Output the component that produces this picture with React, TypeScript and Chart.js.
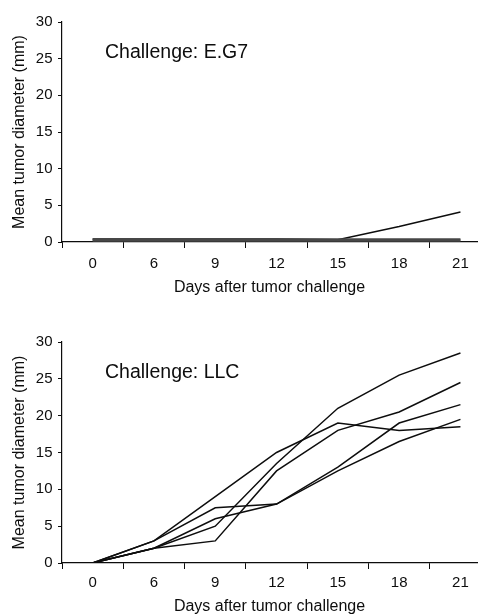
import React, { useEffect, useRef } from 'react';
import { Chart, registerables } from 'chart.js';

Chart.register(...registerables);

// ---- data ----
const days = ['0', '6', '9', '12', '15', '18', '21'];
const yMin = 0;
const yMax = 30;
const yStep = 5;

// Challenge: E.G7 (mean tumor diameter, mm)
const eg7Mouse1 = [0.4, 0.4, 0.4, 0.4, 0.3, 2.1, 4.1];
const eg7Mouse2 = [0.42, 0.42, 0.42, 0.42, 0.42, 0.42, 0.42];
const eg7Mouse3 = [0.32, 0.32, 0.32, 0.32, 0.32, 0.32, 0.32];
const eg7Mouse4 = [0.22, 0.22, 0.22, 0.22, 0.22, 0.22, 0.22];
const eg7Mouse5 = [0.12, 0.12, 0.12, 0.12, 0.12, 0.12, 0.12];

// Challenge: LLC (mean tumor diameter, mm)
const llcMouse1 = [0, 3, 9, 15, 19, 18, 18.5];
const llcMouse2 = [0, 2, 5, 13.5, 21, 25.5, 28.5];
const llcMouse3 = [0, 2, 3, 12.5, 18, 20.5, 24.5];
const llcMouse4 = [0, 3, 7.5, 8, 13, 19, 21.5];
const llcMouse5 = [0, 2, 6, 8, 12.5, 16.5, 19.5];

const FONT = '"Liberation Sans", Arial, Helvetica, sans-serif';
const INK = '#0d0d0d';

type Series = { values: number[]; color: string; width: number };

type PanelProps = {
  width: number;
  height: number;
  label: string;
  series: Series[];
  padTop: number;
  xAxisHeight: number;
  xTickPad: number;
  xTitlePadBottom: number;
};

function Panel(props: PanelProps) {
  const ref = useRef<HTMLCanvasElement | null>(null);

  useEffect(() => {
    if (!ref.current) return;
    const annot = {
      id: 'annot',
      afterDraw(chart: any) {
        const { ctx, chartArea } = chart;
        ctx.save();
        ctx.font = `19.5px ${FONT}`;
        ctx.fillStyle = INK;
        ctx.textAlign = 'left';
        ctx.textBaseline = 'alphabetic';
        ctx.fillText(props.label, chartArea.left + 43, chartArea.top + 35.5);
        ctx.restore();
      },
    };

    const chart = new Chart(ref.current, {
      type: 'line',
      data: {
        datasets: props.series.map((s, k) => ({
          label: `Mouse ${k + 1}`,
          data: s.values.map((v, i) => ({ x: i, y: v })),
          borderColor: s.color,
          borderWidth: s.width,
          pointRadius: 0,
          pointHoverRadius: 0,
          tension: 0,
          fill: false,
        })),
      },
      options: {
        responsive: false,
        animation: false,
        events: [],
        layout: { padding: { top: props.padTop, right: 2, left: 0, bottom: 0 } },
        plugins: {
          legend: { display: false },
          tooltip: { enabled: false },
          title: { display: false },
        },
        scales: {
          x: {
            type: 'linear',
            min: -0.5,
            max: 6.27,
            afterBuildTicks: (axis: any) => {
              const t: { value: number }[] = [];
              for (let i = -1; i <= 12; i++) t.push({ value: i / 2 });
              axis.ticks = t;
            },
            afterFit: (axis: any) => {
              axis.height = props.xAxisHeight;
            },
            ticks: {
              autoSkip: false,
              maxRotation: 0,
              minRotation: 0,
              padding: props.xTickPad,
              color: INK,
              font: { family: FONT, size: 15 },
              callback: (v: any) => (Number.isInteger(v) ? days[v] : ''),
            },
            grid: {
              drawOnChartArea: false,
              drawTicks: true,
              tickLength: 6,
              tickWidth: 1,
              tickColor: (c: any) =>
                c.tick && Number.isInteger(c.tick.value) ? 'rgba(0,0,0,0)' : INK,
            },
            border: { display: true, color: INK, width: 1.2 },
            title: {
              display: true,
              text: 'Days after tumor challenge',
              color: INK,
              font: { family: FONT, size: 16 },
              padding: { top: 0, bottom: props.xTitlePadBottom },
            },
          },
          y: {
            type: 'linear',
            min: yMin,
            max: yMax,
            afterFit: (axis: any) => {
              axis.width = 62;
            },
            ticks: {
              stepSize: yStep,
              padding: 5.5,
              color: INK,
              font: { family: FONT, size: 15 },
            },
            grid: {
              drawOnChartArea: false,
              drawTicks: true,
              tickLength: 4,
              tickColor: INK,
            },
            border: { display: true, color: INK, width: 1.2 },
            title: {
              display: true,
              text: 'Mean tumor diameter (mm)',
              color: INK,
              font: { family: FONT, size: 16 },
              padding: { top: 10, bottom: 0 },
            },
          },
        },
      },
      plugins: [annot],
    } as any);

    return () => chart.destroy();
  }, []);

  return <canvas ref={ref} width={props.width} height={props.height} style={{ display: 'block' }} />;
}

export default function App() {
  const band = '#474747';
  const line = '#0d0d0d';
  const eg7: Series[] = [
    { values: eg7Mouse2, color: band, width: 1.2 },
    { values: eg7Mouse3, color: band, width: 1.2 },
    { values: eg7Mouse4, color: band, width: 1.2 },
    { values: eg7Mouse5, color: band, width: 1.2 },
    { values: eg7Mouse1, color: line, width: 1.5 },
  ];
  const llc: Series[] = [llcMouse1, llcMouse2, llcMouse3, llcMouse4, llcMouse5].map((v) => ({
    values: v,
    color: line,
    width: 1.5,
  }));

  return (
    <div
      style={{
        position: 'absolute',
        left: 0,
        top: 0,
        width: 479,
        height: 615,
        overflow: 'hidden',
        background: '#fff',
      }}
    >
      <div style={{ position: 'absolute', left: 0, top: 0 }}>
        <Panel
          width={479}
          height={300}
          label="Challenge: E.G7"
          series={eg7}
          padTop={22}
          xAxisHeight={58}
          xTickPad={6.5}
          xTitlePadBottom={3}
        />
      </div>
      <div style={{ position: 'absolute', left: 0, top: 300 }}>
        <Panel
          width={479}
          height={325}
          label="Challenge: LLC"
          series={llc}
          padTop={42}
          xAxisHeight={62}
          xTickPad={4.5}
          xTitlePadBottom={9}
        />
      </div>
    </div>
  );
}
